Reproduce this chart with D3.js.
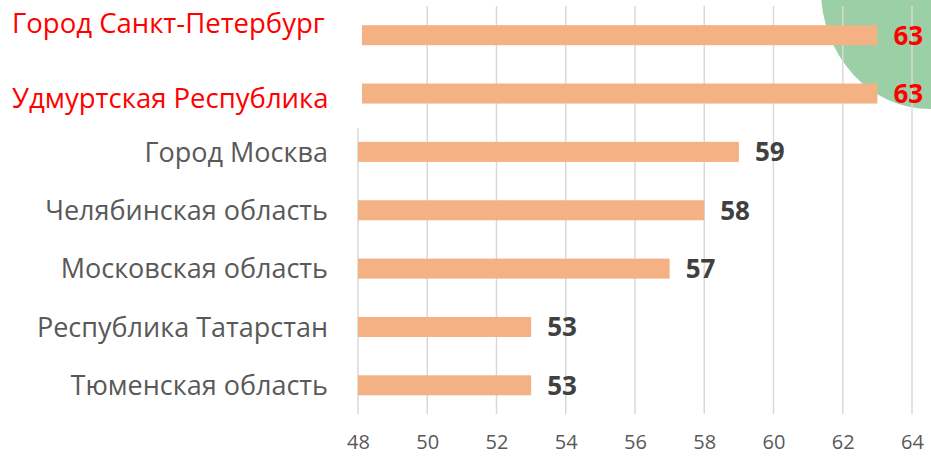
<!DOCTYPE html>
<html>
<head>
<meta charset="utf-8">
<script src="https://cdn.jsdelivr.net/npm/d3@7"></script>
<style>
  body { margin: 0; background: #fff; }
  svg { display: block; font-family: "Open Sans", sans-serif; }
</style>
</head>
<body>
<svg id="chart"></svg>
<script>
// data
const regions = [
  "Город Санкт-Петербург",
  "Удмуртская Республика",
  "Город Москва",
  "Челябинская область",
  "Московская область",
  "Республика Татарстан",
  "Тюменская область"
];
const scores = [63, 63, 59, 58, 57, 53, 53];
const highlighted = [true, true, false, false, false, false, false];
const xTicks = [48, 50, 52, 54, 56, 58, 60, 62, 64];

const width = 931, height = 456;
const data = regions.map((r, i) => ({ name: r, value: scores[i], hot: highlighted[i] }));

const svg = d3.select("#chart")
  .attr("width", width)
  .attr("height", height);

const xScale = d3.scaleLinear()
  .domain([48, 64])
  .range([358, 912]);

const yScale = d3.scaleBand()
  .domain(regions)
  .range([6.5, 414])
  .paddingInner(0.657)
  .paddingOuter(0.32);

const bw = yScale.bandwidth();
const mid = d => yScale(d.name) + bw / 2;

// green blob in the top right corner
svg.append("ellipse")
  .attr("cx", 930)
  .attr("cy", -10)
  .attr("rx", 109)
  .attr("ry", 119)
  .attr("fill", "#9bcfa6");

// vertical gridlines (the first one is hidden behind the top overlay)
svg.append("g")
  .selectAll("line")
  .data(xTicks)
  .join("line")
  .attr("x1", d => xScale(d))
  .attr("x2", d => xScale(d))
  .attr("y1", d => d === 48 ? yScale("Город Москва") - 14 : 6)
  .attr("y2", 414)
  .attr("stroke", "#d9d9d9")
  .attr("stroke-width", 1.5);

// bars
svg.append("g")
  .selectAll("rect")
  .data(data)
  .join("rect")
  .attr("x", d => xScale(48) + (d.hot ? 4 : 0))
  .attr("y", d => yScale(d.name))
  .attr("width", d => xScale(d.value) - xScale(48) - (d.hot ? 4 : 0))
  .attr("height", bw)
  .attr("fill", "#f4b183");

// value labels
svg.append("g")
  .selectAll("text")
  .data(data)
  .join("text")
  .attr("x", d => xScale(d.value) + 16)
  .attr("y", d => mid(d))
  .attr("dy", "0.36em")
  .attr("font-size", 26)
  .attr("font-weight", "bold")
  .attr("fill", d => d.hot ? "#ff0000" : "#404040")
  .text(d => d.value);

// category labels
svg.append("g")
  .selectAll("text")
  .data(data.filter(d => !d.hot))
  .join("text")
  .attr("x", 328)
  .attr("y", d => mid(d))
  .attr("dy", "0.36em")
  .attr("text-anchor", "end")
  .attr("font-size", 27)
  .attr("fill", "#595959")
  .text(d => d.name);

// the two highlighted labels sit a bit off their rows
const hotShift = [-12, 5];
svg.append("g")
  .selectAll("text")
  .data(data.filter(d => d.hot))
  .join("text")
  .attr("x", 12)
  .attr("y", (d, i) => mid(d) + hotShift[i])
  .attr("dy", "0.36em")
  .attr("font-size", 27.5)
  .attr("fill", "#ff0000")
  .text(d => d.name);

// x axis tick labels
const xAxis = d3.axisBottom(xScale)
  .tickValues(xTicks)
  .tickSize(0)
  .tickPadding(0);

const xAxisG = svg.append("g")
  .attr("transform", "translate(0,435)")
  .call(xAxis);
xAxisG.select(".domain").remove();
xAxisG.selectAll("text")
  .attr("font-family", "'Open Sans', sans-serif")
  .attr("font-size", 20)
  .attr("fill", "#595959");
</script>
</body>
</html>
